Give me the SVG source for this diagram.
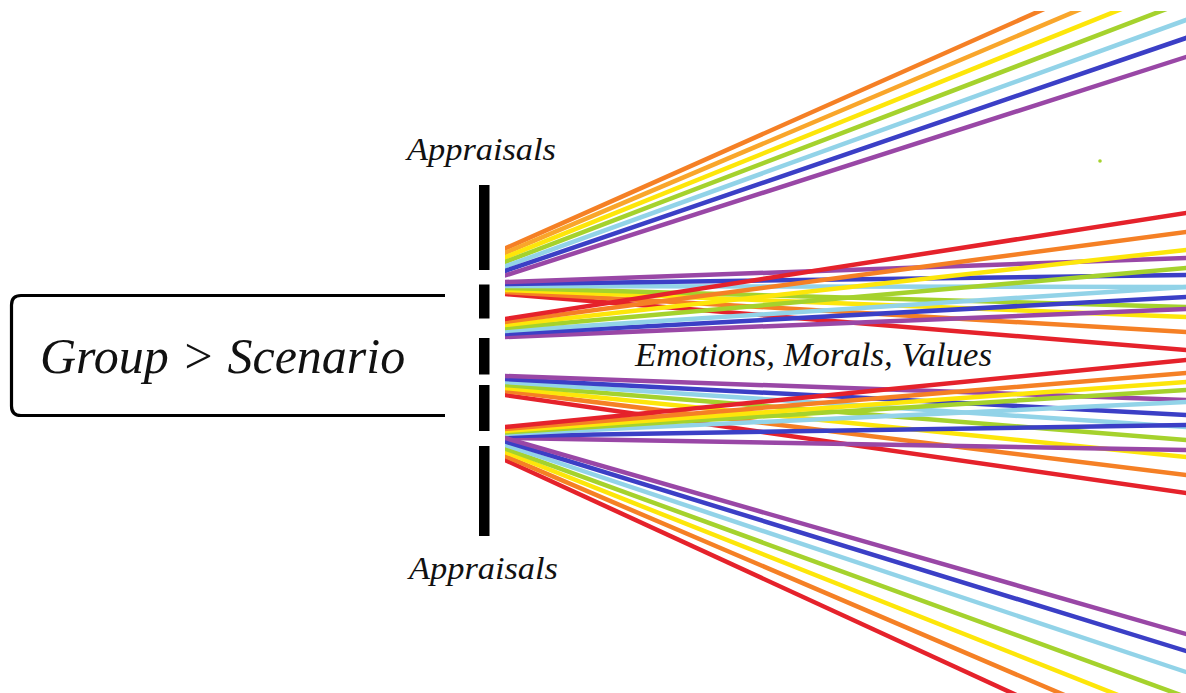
<svg xmlns="http://www.w3.org/2000/svg" width="1186" height="693" viewBox="0 0 1186 693">
<style>
text{font-family:"Liberation Serif","Times New Roman",Tinos,"DejaVu Serif",serif;font-style:italic;fill:#111}
.ray{stroke-width:4.5;stroke-linecap:square;fill:none}
.r{stroke:#e5222b}.o{stroke:#f58025}.lo{stroke:#f9a62b}.y{stroke:#fde60a}.g{stroke:#a5d22d}.lb{stroke:#92d3e8}.b{stroke:#3b3fc6}.p{stroke:#9947a6}
.slit{fill:#000}
</style>
<defs>
<clipPath id="fanclip"><rect x="505" y="11" width="681" height="682"/></clipPath>
</defs>
<rect width="1186" height="693" fill="#fff"/>
<g id="group-scenario">
<path d="M445,295.5 H21 Q11.5,295.5 11.5,305 V406 Q11.5,415.5 21,415.5 H445" fill="none" stroke="#000" stroke-width="3.2"/>
<text x="40" y="373" font-size="50" font-family="Liberation Serif, Times New Roman, DejaVu Serif, serif" font-style="italic">Group &gt; Scenario</text>
</g>
<g id="appraisals-barrier">
<rect class="slit" x="479" y="185" width="10.5" height="85"/>
<rect class="slit" x="479" y="284.5" width="10.5" height="34"/>
<rect class="slit" x="479" y="338" width="10.5" height="36.5"/>
<rect class="slit" x="479" y="385" width="10.5" height="46"/>
<rect class="slit" x="479" y="446" width="10.5" height="90"/>
</g>
<g id="label-appraisals-top"><text x="407" y="160" font-size="31" font-family="Liberation Serif, Times New Roman, DejaVu Serif, serif" font-style="italic" textLength="149" lengthAdjust="spacingAndGlyphs">Appraisals</text></g>
<g id="label-appraisals-bottom"><text x="409" y="579" font-size="31" font-family="Liberation Serif, Times New Roman, DejaVu Serif, serif" font-style="italic" textLength="149" lengthAdjust="spacingAndGlyphs">Appraisals</text></g>
<g id="connectors" clip-path="url(#fanclip)">
<g id="fan-a">
<line class="ray o" x1="505" y1="248.5" x2="1186" y2="-54"/>
<line class="ray lo" x1="505" y1="253" x2="1186" y2="-35.5"/>
<line class="ray y" x1="505" y1="257.5" x2="1186" y2="-17"/>
<line class="ray g" x1="505" y1="262" x2="1186" y2="1.5"/>
<line class="ray lb" x1="505" y1="266.5" x2="1186" y2="20"/>
<line class="ray b" x1="505" y1="271" x2="1186" y2="38"/>
<line class="ray p" x1="505" y1="275.5" x2="1186" y2="57"/>
</g>
<g id="fan-b">
<line class="ray r" x1="505" y1="294" x2="1186" y2="350"/>
<line class="ray o" x1="505" y1="292" x2="1186" y2="332"/>
<line class="ray y" x1="505" y1="290" x2="1186" y2="317"/>
<line class="ray g" x1="505" y1="288" x2="1186" y2="307"/>
<line class="ray lb" x1="505" y1="286" x2="1186" y2="287"/>
<line class="ray b" x1="505" y1="284" x2="1186" y2="275"/>
<line class="ray p" x1="505" y1="282" x2="1186" y2="258"/>
</g>
<g id="fan-c">
<line class="ray p" x1="505" y1="337" x2="1186" y2="309"/>
<line class="ray b" x1="505" y1="334" x2="1186" y2="297"/>
<line class="ray lb" x1="505" y1="331" x2="1186" y2="287"/>
<line class="ray g" x1="505" y1="328" x2="1186" y2="268"/>
<line class="ray y" x1="505" y1="325" x2="1186" y2="250"/>
<line class="ray o" x1="505" y1="322" x2="1186" y2="232"/>
<line class="ray r" x1="505" y1="319" x2="1186" y2="213"/>
</g>
<g id="fan-d">
<line class="ray r" x1="505" y1="395" x2="1186" y2="493"/>
<line class="ray o" x1="505" y1="391" x2="1186" y2="475"/>
<line class="ray y" x1="505" y1="388" x2="1186" y2="457"/>
<line class="ray g" x1="505" y1="385" x2="1186" y2="440"/>
<line class="ray lb" x1="505" y1="382" x2="1186" y2="427"/>
<line class="ray b" x1="505" y1="379" x2="1186" y2="415"/>
<line class="ray p" x1="505" y1="376" x2="1186" y2="400"/>
</g>
<g id="fan-e">
<line class="ray p" x1="505" y1="438" x2="1186" y2="450"/>
<line class="ray b" x1="505" y1="436" x2="1186" y2="425"/>
<line class="ray lb" x1="505" y1="434" x2="1186" y2="402"/>
<line class="ray g" x1="505" y1="432.5" x2="1186" y2="390"/>
<line class="ray y" x1="505" y1="431" x2="1186" y2="382"/>
<line class="ray o" x1="505" y1="429" x2="1186" y2="373"/>
<line class="ray r" x1="505" y1="427" x2="1186" y2="360"/>
</g>
<g id="fan-f">
<line class="ray r" x1="505" y1="460" x2="1186" y2="773"/>
<line class="ray o" x1="505" y1="456" x2="1186" y2="747"/>
<line class="ray y" x1="505" y1="452" x2="1186" y2="722"/>
<line class="ray g" x1="505" y1="448.5" x2="1186" y2="697"/>
<line class="ray lb" x1="505" y1="445" x2="1186" y2="672"/>
<line class="ray b" x1="505" y1="441.5" x2="1186" y2="651"/>
<line class="ray p" x1="505" y1="438" x2="1186" y2="634"/>
</g>
</g>
<g id="label-emotions"><text x="635" y="366" font-size="33" font-family="Liberation Serif, Times New Roman, DejaVu Serif, serif" font-style="italic" textLength="357" lengthAdjust="spacingAndGlyphs">Emotions, Morals, Values</text></g>
<circle cx="1100" cy="161" r="1.8" fill="#a5d22d"/>
</svg>
